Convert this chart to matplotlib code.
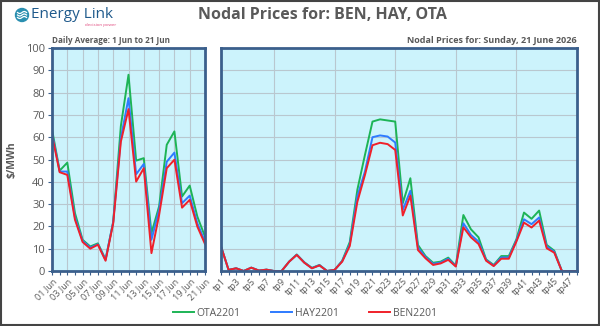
import matplotlib
matplotlib.use("Agg")
import matplotlib.pyplot as plt
from matplotlib.patches import Circle, Rectangle
import numpy as np

# ---------------- data ----------------
days = [f"{d:02d} Jun" for d in range(1, 22)]
ota_daily = [63.5, 45, 48.6, 26, 14, 11, 12.4, 5.2, 22, 65, 88, 49.5, 50.6, 17, 29, 56.6, 62.6, 33.4, 38.3, 24.4, 15.4]
hay_daily = [62, 44.6, 44.6, 24, 13.5, 10.5, 12, 5, 22, 59.6, 77.5, 43.4, 48, 14, 27.4, 49, 53.1, 30.4, 33.8, 21.4, 13.2]
ben_daily = [61, 44.3, 43.1, 23, 13, 10, 11.8, 4.6, 21.4, 58, 72.6, 40.1, 46.1, 8, 25.1, 46.1, 49.9, 28.4, 31.9, 19.9, 12.1]

periods = [f"tp{i}" for i in range(1, 49)]
ota_tp = [11, 0.5, 1.2, 0, 1.5, 0.2, 0.6, 0, 0, 4.2, 7.4, 3.9, 1.4, 2.7, 0, 0.5, 4.6, 13, 36.4, 52, 67, 68, 67.5, 67,
          30.4, 41.6, 11.7, 6.7, 3.7, 4.2, 6, 2.4, 25.1, 18.7, 15.1, 5.2, 2.7, 6.7, 6.7, 14.2, 26.2, 23.4, 27.1, 11.7, 9.1, 0, 0, 0]
hay_tp = [11, 0.5, 1.2, 0, 1.5, 0.2, 0.6, 0, 0, 4.2, 7.3, 3.8, 1.3, 2.6, 0, 0.5, 4.4, 12, 33.5, 44.6, 60, 60.8, 60.3, 57.6,
          27.4, 36, 10.6, 6.2, 3.2, 3.8, 5.5, 2.2, 21.4, 16.2, 13.2, 4.9, 2.4, 6.1, 6.1, 13.7, 23.2, 21, 24, 11, 8.6, 0, 0, 0]
ben_tp = [11, 0.5, 1.2, 0, 1.5, 0.2, 0.6, 0, 0, 4.2, 7.2, 3.7, 1.2, 2.5, 0, 0.5, 4.2, 11.2, 31, 43, 56.4, 57.5, 56.9, 54.3,
          24.9, 33.8, 9.4, 5.7, 2.7, 3.4, 5, 2, 19.6, 15.1, 12.1, 4.6, 2.2, 5.5, 5.5, 13.2, 21.7, 19.5, 22.6, 10.2, 8.2, 0, 0, 0]

series_names = ["OTA2201", "HAY2201", "BEN2201"]

# ---------------- style ----------------
GREEN = "#1DB456"
BLUE = "#2E7BFF"
RED = "#F0202A"
BG = "#CCF3FC"
SPINE = "#3B5F8C"
GRID = "#B9C7CF"
TXT = "#595959"

fig = plt.figure(figsize=(6.0, 3.26), dpi=100)
fig.patch.set_facecolor("white")

W, H = 600, 326
def ax_rect(x0, x1, ytop, ybot):
    return [x0 / W, (H - ybot) / H, (x1 - x0) / W, (ybot - ytop) / H]

ax1 = fig.add_axes(ax_rect(52, 205, 48, 271))
ax2 = fig.add_axes(ax_rect(221, 577, 48, 271))

FONT = ["Open Sans", "DejaVu Sans"]

def style(ax, n, labels, every, grid_every, grid_offset):
    ax.set_facecolor(BG)
    ax.set_xlim(0, n - 1)
    ax.set_ylim(0, 100)
    ax.set_yticks(np.arange(0, 101, 10))
    for y in range(10, 100, 10):
        ax.axhline(y, color=GRID, lw=0.8, zorder=1)
    for i in range(grid_offset, n - 1, grid_every):
        ax.axvline(i, color=GRID, lw=0.8, zorder=1)
    ax.set_xticks(range(n))
    ax.set_xticklabels([l if i % every == 0 else "" for i, l in enumerate(labels)],
                       rotation=45, ha="right", rotation_mode="anchor",
                       fontsize=6.5, color=TXT, family=FONT)
    ax.tick_params(axis="x", length=3, width=0.8, color=SPINE, pad=1)
    for s in ax.spines.values():
        s.set_color(SPINE)
        s.set_linewidth(2)
        s.set_zorder(5)

x1 = np.arange(len(days))
x2 = np.arange(len(periods))

style(ax1, len(days), days, 2, 2, 2)
style(ax2, len(periods), periods, 2, 8, 7)

for ax, x, data in [(ax1, x1, (ota_daily, hay_daily, ben_daily)),
                    (ax2, x2, (ota_tp, hay_tp, ben_tp))]:
    for vals, c, name in zip(data, (GREEN, BLUE, RED), series_names):
        ax.plot(x, vals, color=c, lw=1.4, label=name, zorder=3, clip_on=True)

ax1.tick_params(axis="y", length=3, width=0.8, color=SPINE, labelsize=8, labelcolor=TXT, pad=2)
for t in ax1.get_yticklabels():
    t.set_family(FONT)
ax2.tick_params(axis="y", left=False, labelleft=False)

fig.text(12 / W, 1 - 160 / H, "$/MWh", rotation=90, ha="center", va="center",
         fontsize=7.5, color=TXT, fontweight="bold", family=FONT)

# titles
fig.text(322 / W, 1 - 15 / H, "Nodal Prices for: BEN, HAY, OTA", ha="center", va="center",
         fontsize=11.5, fontweight="bold", color=TXT, family=FONT)
fig.text(52 / W, 1 - 40 / H, "Daily Average: 1 Jun to 21 Jun", ha="left", va="center",
         fontsize=5.9, fontweight="bold", color=TXT, family=FONT)
fig.text(577 / W, 1 - 40 / H, "Nodal Prices for: Sunday, 21 June 2026", ha="right", va="center",
         fontsize=6.5, fontweight="bold", color=TXT, family=FONT)

# logo
logo_ax = fig.add_axes([0, 0, 1, 1], facecolor="none")
logo_ax.set_xlim(0, W)
logo_ax.set_ylim(H, 0)
logo_ax.axis("off")
logo_ax.add_patch(Circle((22, 15), 6.5, color="#2A8FB0", zorder=2))
for dy in (-2.5, 0, 2.5):
    xs = np.linspace(17.5, 26.5, 20)
    logo_ax.plot(xs, 15 + dy + 1.0 * np.sin((xs - 17.5) / 9 * 2 * np.pi), color="white", lw=0.9, zorder=3)
logo_ax.text(31, 15, "Energy Link", ha="left", va="center", fontsize=11, color="#1F5A8C", family=FONT)
logo_ax.text(85, 25, "decision power", ha="left", va="center", fontsize=3.2, color="#E0457B", family=FONT)
# outer frame
logo_ax.add_patch(Rectangle((0.5, 0.5), W - 1.5, H - 1.5, fill=False, edgecolor="#444444", lw=1.5))

# legend
handles, labels = ax1.get_legend_handles_labels()
leg = fig.legend(handles, labels, loc="center", bbox_to_anchor=(305 / W, 1 - 313 / H), ncol=3,
                 frameon=False, handlelength=2.0, columnspacing=2.9, handletextpad=0.3,
                 prop={"family": FONT, "size": 7.5})
for t in leg.get_texts():
    t.set_color(TXT)

fig.savefig("out.png", dpi=100, facecolor="white")
